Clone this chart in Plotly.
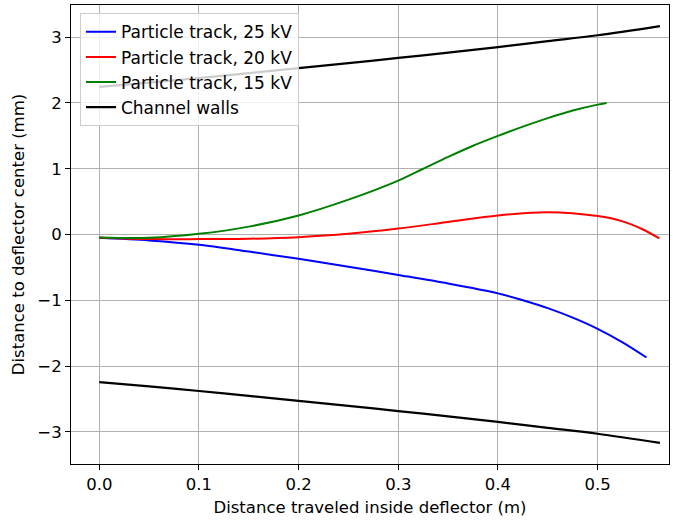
import plotly.graph_objects as go

# Channel walls
wall_x = [0.0, 0.05, 0.1, 0.15, 0.2, 0.25, 0.3, 0.35, 0.4, 0.45, 0.5, 0.5625]
wall_top = [2.245, 2.31, 2.38, 2.455, 2.53, 2.605, 2.685, 2.765, 2.85, 2.94, 3.03, 3.17]
wall_bottom = [-v for v in wall_top]

# Particle tracks
x25 = [0.0, 0.05, 0.1, 0.15, 0.2, 0.25, 0.3, 0.35, 0.4, 0.425, 0.45, 0.475, 0.5, 0.525, 0.549]
y25 = [-0.05, -0.09, -0.155, -0.26, -0.37, -0.49, -0.615, -0.745, -0.895, -1.00, -1.12, -1.265, -1.435, -1.64, -1.87]

x20 = [0.0, 0.05, 0.1, 0.15, 0.2, 0.25, 0.3, 0.35, 0.4, 0.45, 0.5, 0.525, 0.545, 0.562]
y20 = [-0.05, -0.07, -0.07, -0.065, -0.04, 0.01, 0.09, 0.19, 0.29, 0.34, 0.28, 0.20, 0.08, -0.06]

x15 = [0.0, 0.05, 0.1, 0.15, 0.2, 0.25, 0.3, 0.325, 0.35, 0.375, 0.4, 0.425, 0.45, 0.475, 0.5, 0.509]
y15 = [-0.045, -0.05, 0.01, 0.12, 0.29, 0.53, 0.82, 1.00, 1.18, 1.35, 1.50, 1.64, 1.77, 1.885, 1.975, 2.0]

x_ticks = [0.0, 0.1, 0.2, 0.3, 0.4, 0.5]
y_ticks = [-3, -2, -1, 0, 1, 2, 3]

FONT = "DejaVu Sans"
FS = 16.5
fig = go.Figure()
fig.add_trace(go.Scatter(x=x25, y=y25, mode="lines", name="Particle track, 25 kV",
                         line=dict(color="#0000ff", width=2, shape="spline", smoothing=0.9)))
fig.add_trace(go.Scatter(x=x20, y=y20, mode="lines", name="Particle track, 20 kV",
                         line=dict(color="#ff0000", width=2, shape="spline", smoothing=0.9)))
fig.add_trace(go.Scatter(x=x15, y=y15, mode="lines", name="Particle track, 15 kV",
                         line=dict(color="#008000", width=2, shape="spline", smoothing=0.9)))
fig.add_trace(go.Scatter(x=wall_x, y=wall_top, mode="lines", name="Channel walls",
                         line=dict(color="#000000", width=2.2, shape="spline", smoothing=0.9)))
fig.add_trace(go.Scatter(x=wall_x, y=wall_bottom, mode="lines", name="Channel walls",
                         showlegend=False,
                         line=dict(color="#000000", width=2.2, shape="spline", smoothing=0.9)))

axis_common = dict(
    showline=True, linecolor="black", linewidth=1, mirror=True,
    ticks="outside", ticklen=5, tickcolor="black", tickwidth=1,
    showgrid=True, gridcolor="#b0b0b0", gridwidth=1,
    zeroline=False,
    tickfont=dict(family=FONT, size=FS, color="black"),
)
fig.update_xaxes(range=[-0.0284, 0.5716], tickvals=x_ticks,
                 ticktext=[f"{v:.1f}" for v in x_ticks],
                 title=dict(text="Distance traveled inside deflector (m)",
                            font=dict(family=FONT, size=FS, color="black"), standoff=8),
                 **axis_common)
fig.update_yaxes(range=[-3.49, 3.49], tickvals=y_ticks,
                 ticktext=[("\u2212" + str(-v)) if v < 0 else str(v) for v in y_ticks],
                 title=dict(text="Distance to deflector center (mm)",
                            font=dict(family=FONT, size=FS, color="black"), standoff=8),
                 **axis_common)

fig.update_layout(
    width=677, height=522,
    margin=dict(l=71, r=8, t=5, b=58),
    plot_bgcolor="white", paper_bgcolor="white",
    font=dict(family=FONT, size=FS, color="black"),
    legend=dict(x=0.015, y=0.982, xanchor="left", yanchor="top",
                bgcolor="rgba(255,255,255,0.8)", bordercolor="#cccccc", borderwidth=1,
                font=dict(family=FONT, size=17, color="black"),
                itemwidth=30, tracegroupgap=0),
)

fig.write_html("out.html")
